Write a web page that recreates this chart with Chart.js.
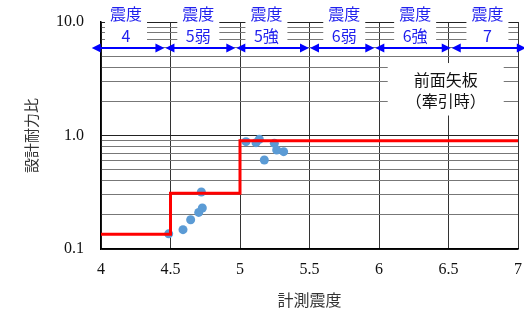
<!DOCTYPE html>
<html><head><meta charset="utf-8">
<script src="https://cdn.jsdelivr.net/npm/chart.js@4"></script>
<style>html,body{margin:0;padding:0;background:#fff}</style>
</head><body>
<canvas id="c" width="524" height="320"></canvas>
<script>
// ---- data ----
const stepX = [4, 4.5, 5, 7];
const stepY = [0.135, 0.31, 0.9, 0.9];
const pointX = [4.487, 4.59, 4.645, 4.703, 4.729, 4.722, 5.043, 5.115, 5.139, 5.247, 5.264, 5.314, 5.175];
const pointY = [0.136, 0.148, 0.181, 0.210, 0.230, 0.318, 0.882, 0.865, 0.926, 0.853, 0.745, 0.720, 0.608];
const xTickValues = [4, 4.5, 5, 5.5, 6, 6.5, 7];
const yTickValues = [0.1,0.2,0.3,0.4,0.5,0.6,0.7,0.8,0.9,1,2,3,4,5,6,7,8,9,10];
const yLabelTicks = [0.1, 1, 10];
const bandTop = ['震度','震度','震度','震度','震度','震度'];
const bandBottom = ['4','5弱','5強','6弱','6強','7'];
const bandEdges = [3.93, 4.46, 4.97, 5.5, 5.97, 6.52, 7.06];
const bandLabelX = [4.18, 4.70, 5.19, 5.75, 6.26, 6.78];
const arrowY = 5.9;
const noteLines = ['前面矢板', '（牽引時）'];
const noteX = 6.48;
const noteY = [3.1, 2.0];
const noteBoxY = [4.35, 1.5];

const CJK = '"Noto Sans CJK JP", "Noto Sans", sans-serif';
const SERIF = '"Liberation Serif", "DejaVu Serif", serif';

function arrowHead(ctx, x, y, dir) {
  ctx.beginPath();
  ctx.moveTo(x, y);
  ctx.lineTo(x - dir * 9, y - 4.5);
  ctx.lineTo(x - dir * 9, y + 4.5);
  ctx.closePath();
  ctx.fill();
}

const overlay = {
  id: 'overlay',
  beforeDatasetsDraw(chart) {
    const ctx = chart.ctx, xs = chart.scales.x, ys = chart.scales.y;
    const top = chart.chartArea.top;
    ctx.save();
    ctx.font = '16px ' + CJK;
    ctx.textAlign = 'center';
    ctx.textBaseline = 'middle';
    bandTop.forEach((t, i) => {
      const cx = xs.getPixelForValue(bandLabelX[i]);
      const w = Math.max(ctx.measureText(t).width, ctx.measureText(bandBottom[i]).width) + 10;
      ctx.fillStyle = '#fff';
      ctx.fillRect(cx - w / 2, top - 20, w, 42);
      ctx.fillStyle = '#1f1fee';
      ctx.fillText(t, cx, top - 8);
      ctx.fillText(bandBottom[i], cx, top + 14);
    });
    const ay = ys.getPixelForValue(arrowY);
    ctx.strokeStyle = '#0000ff';
    ctx.fillStyle = '#0000ff';
    ctx.lineWidth = 2;
    for (let i = 0; i < bandEdges.length - 1; i++) {
      const x1 = xs.getPixelForValue(bandEdges[i]) + 0.5;
      const x2 = xs.getPixelForValue(bandEdges[i + 1]) - 0.5;
      ctx.beginPath();
      ctx.moveTo(x1 + 4, ay);
      ctx.lineTo(x2 - 4, ay);
      ctx.stroke();
      arrowHead(ctx, x1, ay, -1);
      arrowHead(ctx, x2, ay, 1);
    }
    ctx.font = '16px ' + CJK;
    const nx = xs.getPixelForValue(noteX);
    const by1 = ys.getPixelForValue(noteBoxY[0]);
    const by2 = ys.getPixelForValue(noteBoxY[1]);
    ctx.fillStyle = '#fff';
    ctx.fillRect(nx - 58, by1, 116, by2 - by1);
    ctx.fillStyle = '#111';
    noteLines.forEach((t, i) => ctx.fillText(t, nx, ys.getPixelForValue(noteY[i])));
    ctx.restore();
  }
};

new Chart(document.getElementById('c'), {
  type: 'scatter',
  data: {
    datasets: [
      {
        type: 'line',
        data: stepX.map((x, i) => ({x, y: stepY[i]})),
        stepped: 'before',
        borderColor: '#ff0000',
        borderWidth: 3,
        pointRadius: 0,
        fill: false
      },
      {
        data: pointX.map((x, i) => ({x, y: pointY[i]})),
        backgroundColor: '#5b9bd5',
        borderWidth: 0,
        pointRadius: 4.5
      }
    ]
  },
  plugins: [overlay],
  options: {
    responsive: false,
    animation: false,
    devicePixelRatio: 1,
    layout: {padding: {left: 0, right: 6, top: 22, bottom: 0}},
    plugins: {legend: {display: false}, tooltip: {enabled: false}},
    scales: {
      x: {
        type: 'linear', min: 4, max: 7,
        afterFit(s) { s.height = 71; s.paddingLeft = 0; s.paddingRight = 0; },
        afterBuildTicks(s) { s.ticks = xTickValues.map(v => ({value: v})); },
        ticks: {
          autoSkip: false, maxRotation: 0, padding: 11, color: '#111',
          font: {family: SERIF, size: 16},
          callback: v => String(v)
        },
        grid: {color: '#333', lineWidth: 1, drawTicks: false},
        border: {color: '#000', width: 1.5},
        title: {display: true, text: '計測震度', color: '#333', padding: {top: 0, bottom: 10},
                font: {family: CJK, size: 16}}
      },
      y: {
        type: 'logarithmic', min: 0.1, max: 10,
        afterFit(s) { s.width = 101; s.paddingTop = 0; s.paddingBottom = 0; },
        afterBuildTicks(s) { s.ticks = yTickValues.map(v => ({value: v})); },
        ticks: {
          autoSkip: false, padding: 17, color: '#111',
          font: {family: SERIF, size: 16},
          callback: v => yLabelTicks.some(t => Math.abs(t - v) < 1e-9) ? v.toFixed(1) : ''
        },
        grid: {
          drawTicks: false, lineWidth: 1,
          color: c => yLabelTicks.some(t => Math.abs(t - c.tick.value) < 1e-9) ? '#222' : '#777'
        },
        border: {color: '#000', width: 1.5},
        title: {display: true, text: '設計耐力比', color: '#333', padding: {top: 22, bottom: 0},
                font: {family: CJK, size: 15}}
      }
    }
  }
});
</script>
</body></html>
